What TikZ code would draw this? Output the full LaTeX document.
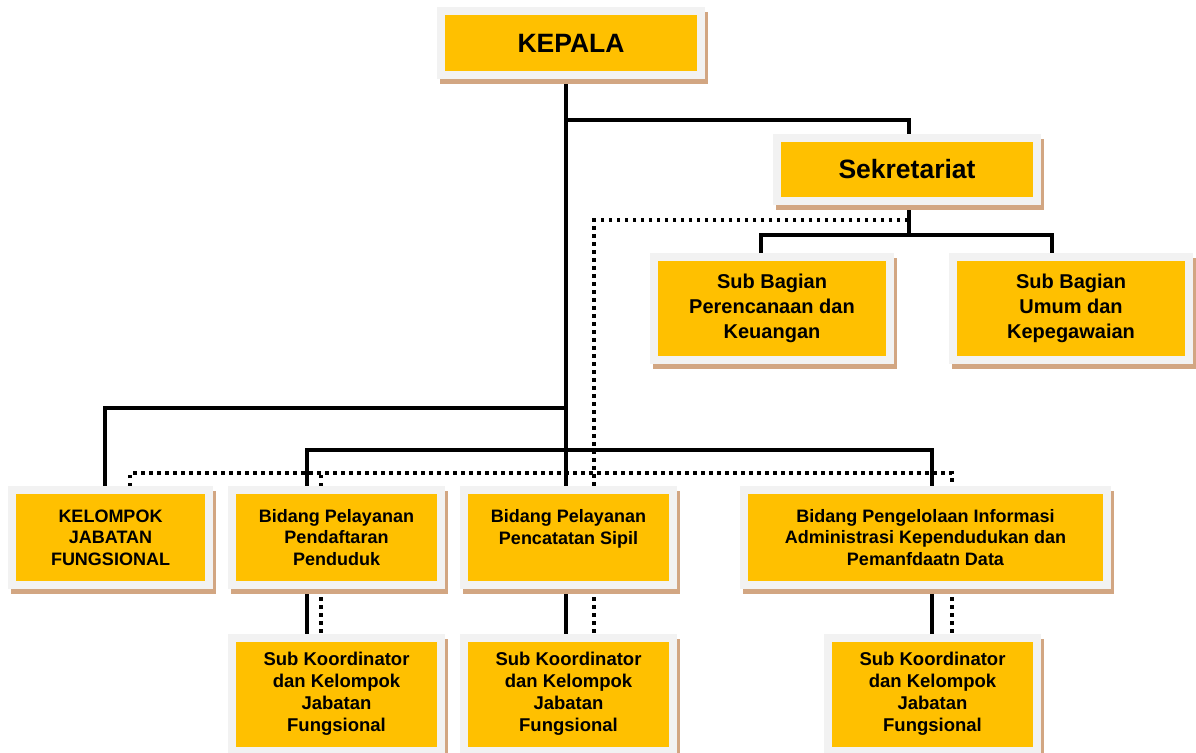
\documentclass[tikz,border=0pt]{standalone}
\usepackage{fontspec}
\setmainfont{Liberation Sans}
\usepackage{xcolor}
\usepackage{tikz}
\usetikzlibrary{calc, positioning, backgrounds}

\definecolor{unityellow}{HTML}{FFC000}
\definecolor{framegray}{HTML}{F2F2F2}
\definecolor{shadowtan}{HTML}{D2A682}

\begin{document}
\begin{tikzpicture}[x=1pt, y=-1pt,
    unit/.style={fill=unityellow, draw=framegray, line width=8pt, inner sep=0pt, align=center,
        font=\bfseries\fontsize{18}{21.5}\selectfont,
        preaction={draw=shadowtan, fill=shadowtan, transform canvas={shift={(3pt,-5pt)}}}},
    link/.style={line width=3.5pt},
    dotlink/.style={line width=3.5pt, dash pattern=on 3.5pt off 4.5pt}]

    \useasboundingbox (0,0) rectangle (1196,752);

    % =================================================================
    % 1. KOTAK PIMPINAN DAN SEKRETARIAT
    % =================================================================
    \node[unit, minimum width=260pt, minimum height=64pt, font=\bfseries\fontsize{26.5}{30}\selectfont]
        (kepala) at (571,43) {KEPALA};
    \node[unit, minimum width=260pt, minimum height=63pt, font=\bfseries\fontsize{26.5}{30}\selectfont]
        (sekretariat) at (907,169.5) {Sekretariat};

    % Sub bagian di bawah sekretariat
    \node[unit, minimum width=236pt, minimum height=103pt, font=\bfseries\fontsize{20}{25}\selectfont]
        (subPerencanaan) at (772,308) {Sub Bagian\\Perencanaan dan\\Keuangan};
    \node[unit, minimum width=236pt, minimum height=103pt, font=\bfseries\fontsize{20}{25}\selectfont]
        (subUmum) at (1071,308) {Sub Bagian\\Umum dan\\Kepegawaian};

    % =================================================================
    % 2. KOTAK BIDANG DAN KELOMPOK JABATAN
    % =================================================================
    \node[unit, minimum width=197pt, minimum height=95pt] (kelompok) at (110.5,537.5)
        {KELOMPOK\\JABATAN\\FUNGSIONAL};
    \node[unit, minimum width=209pt, minimum height=95pt] (bidPendaftaran) at (336.5,537.5)
        {Bidang Pelayanan\\Pendaftaran\\Penduduk};
    \node[unit, minimum width=209pt, minimum height=95pt] (bidPencatatan) at (568.5,537.5)
        {Bidang Pelayanan\\Pencatatan Sipil\\~};
    \node[unit, minimum width=363pt, minimum height=95pt] (bidPengelolaan) at (925.5,537.5)
        {Bidang Pengelolaan Informasi\\Administrasi Kependudukan dan\\Pemanfdaatn Data};

    % Sub koordinator di bawah tiap bidang
    \node[unit, minimum width=209pt, minimum height=113pt, font=\bfseries\fontsize{18.5}{22}\selectfont]
        (subKoord1) at (336.5,694) {Sub Koordinator\\dan Kelompok\\Jabatan\\Fungsional};
    \node[unit, minimum width=209pt, minimum height=113pt, font=\bfseries\fontsize{18.5}{22}\selectfont]
        (subKoord2) at (568.5,694) {Sub Koordinator\\dan Kelompok\\Jabatan\\Fungsional};
    \node[unit, minimum width=209pt, minimum height=113pt, font=\bfseries\fontsize{18.5}{22}\selectfont]
        (subKoord3) at (932.5,694) {Sub Koordinator\\dan Kelompok\\Jabatan\\Fungsional};

    % =================================================================
    % 3. GARIS KOMANDO (tegas) DAN GARIS KOORDINASI (titik-titik)
    % =================================================================
    \begin{scope}[on background layer]
        % Garis tegak utama dari KEPALA
        \draw[link] ($(kepala.south)+(-5,0)$) coordinate (spineTop) -- (spineTop |- bidPencatatan.north);
        \coordinate (busSek) at (566,120);
        \coordinate (busKelompok) at (566,408);
        \coordinate (busBidang) at (566,450);
        \coordinate (busDot) at (566,473);
        \coordinate (dotCorner) at (594,220);
        \coordinate (busSub) at (909,235);

        \draw[link] (busSek) -| ($(sekretariat.north)+(2,0)$);
        \draw[link] ($(sekretariat.south)+(2,0)$) -- (busSub);
        \draw[link] ($(subPerencanaan.north)+(-11,0)$) |- (busSub) -| ($(subUmum.north)+(-19,0)$);

        \draw[dotlink] ($(sekretariat.south)+(2,0)$) |- (dotCorner) -- (dotCorner |- bidPencatatan.north);

        \draw[link] (busKelompok) -| ($(kelompok.north)+(-5.5,0)$);
        \draw[link] ($(bidPendaftaran.north)+(-29.5,0)$) |- (busBidang) -| ($(bidPengelolaan.north)+(6.5,0)$);

        \draw[dotlink] ($(kelompok.north)+(19.5,0)$) |- (busDot) -| ($(bidPengelolaan.north)+(26.5,0)$);
        \draw[dotlink] ($(bidPendaftaran.north)+(-15.5,0)$) coordinate (dotPend) -- (dotPend |- busDot);

        % Garis ke sub koordinator
        \foreach \upper/\lower/\sx/\dx in {bidPendaftaran/subKoord1/-29.5/-15.5,
                bidPencatatan/subKoord2/-2.5/25.5, bidPengelolaan/subKoord3/6.5/26.5} {
            \draw[link] ($(\upper.south)+(\sx,0)$) coordinate (a) -- (a |- \lower.north);
            \draw[dotlink] ($(\upper.south)+(\dx,0)$) coordinate (b) -- (b |- \lower.north);
        }
    \end{scope}

\end{tikzpicture}
\end{document}
